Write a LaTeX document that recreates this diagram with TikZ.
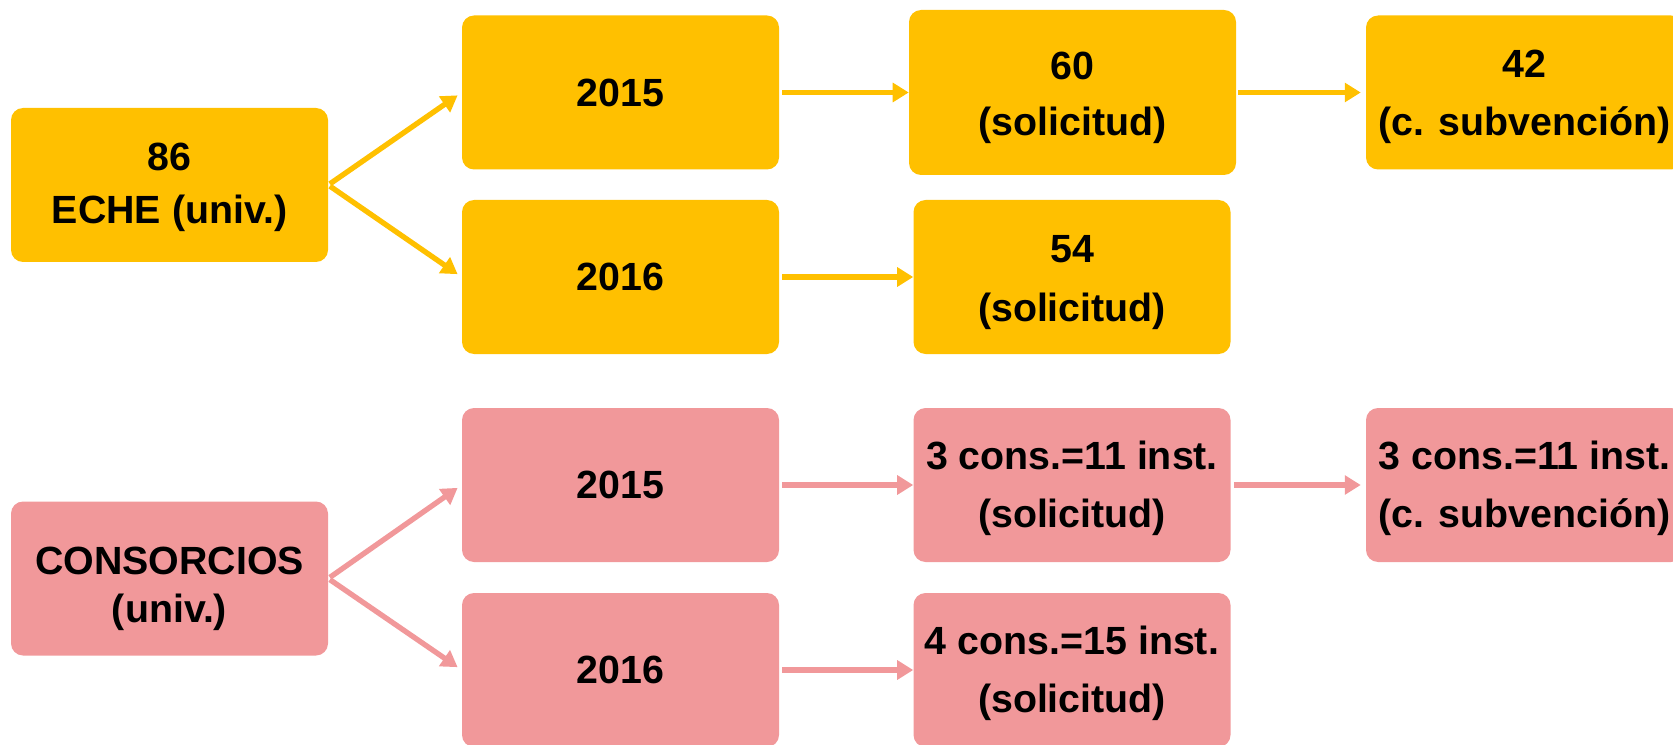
\documentclass[tikz,border=0pt]{standalone}
\usepackage{fontspec}
\setmainfont{Liberation Sans}
\usetikzlibrary{arrows.meta}
\definecolor{gold}{HTML}{FFC000}
\definecolor{rose}{HTML}{F1989A}

\begin{document}
\begin{tikzpicture}[x=0.75pt,y=-0.75pt,
  box/.style={rounded corners=9pt,minimum width=237.75pt,minimum height=115.5pt,
    inner sep=0pt,align=center,font=\fontsize{29.5}{42}\selectfont\bfseries},
  goldbox/.style={box,fill=gold},
  rosebox/.style={box,fill=rose},
  skip/.style={font=\fontsize{29.5}{#1}\selectfont\bfseries},
  link/.style={line width=4pt,-{Triangle[length=12pt,width=14pt]}},
  goldlink/.style={link,gold},
  roselink/.style={link,rose}]
  \useasboundingbox (0,0) rectangle (1673,745);
  \clip (0,0) rectangle (1673,745);
  % ECHE
  \node[goldbox,skip=40,text height=64pt] (eche) at (169.5,185) {86\\ECHE (univ.)};
  \node[goldbox] (ya) at (620.5,92.5) {2015};
  \node[goldbox] (yb) at (620.5,277) {2016};
  \node[goldbox,minimum width=245.25pt,minimum height=123.75pt,text height=70pt] (sola) at (1072.5,92.5) {60\\(solicitud)};
  \node[goldbox,skip=44,text height=72.5pt] (solb) at (1072,277) {54\\(solicitud)};
  \node[goldbox,skip=43,text height=70pt] (suba) at (1524.5,92.5) {42\\(c. subvención)};
  \draw[goldlink,shorten <=1.5pt,shorten >=3.75pt] (eche.east) -- (ya.west);
  \draw[goldlink,shorten <=1.5pt,shorten >=3.75pt] (eche.east) -- (yb.west);
  \draw[goldlink,shorten <=2.25pt] (ya.east) -- (sola.west);
  \draw[goldlink,shorten <=2.25pt] (yb.east) -- (solb.west);
  \draw[goldlink,shorten <=1.5pt,shorten >=3.75pt] (sola.east) -- (suba.west);
  % consorcios
  \node[rosebox,skip=36,text height=72.5pt] (cons) at (169.5,578.5) {CONSORCIOS\\(univ.)};
  \node[rosebox] (yc) at (620.5,485) {2015};
  \node[rosebox] (yd) at (620.5,670) {2016};
  \node[rosebox,skip=44,text height=70.3pt] (solc) at (1072,485) {3 cons.=11 inst.\\(solicitud)};
  \node[rosebox,skip=44,text height=70.3pt] (sold) at (1072,670) {4 cons.=15 inst.\\(solicitud)};
  \node[rosebox,skip=44,text height=70.3pt] (subc) at (1524.5,485) {3 cons.=11 inst.\\(c. subvención)};
  \draw[roselink,shorten <=1.5pt,shorten >=3.75pt] (cons.east) -- (yc.west);
  \draw[roselink,shorten <=1.5pt,shorten >=3.75pt] (cons.east) -- (yd.west);
  \draw[roselink,shorten <=2.25pt] (yc.east) -- (solc.west);
  \draw[roselink,shorten <=2.25pt] (yd.east) -- (sold.west);
  \draw[roselink,shorten <=2.25pt,shorten >=3.75pt] (solc.east) -- (subc.west);
\end{tikzpicture}
\end{document}
